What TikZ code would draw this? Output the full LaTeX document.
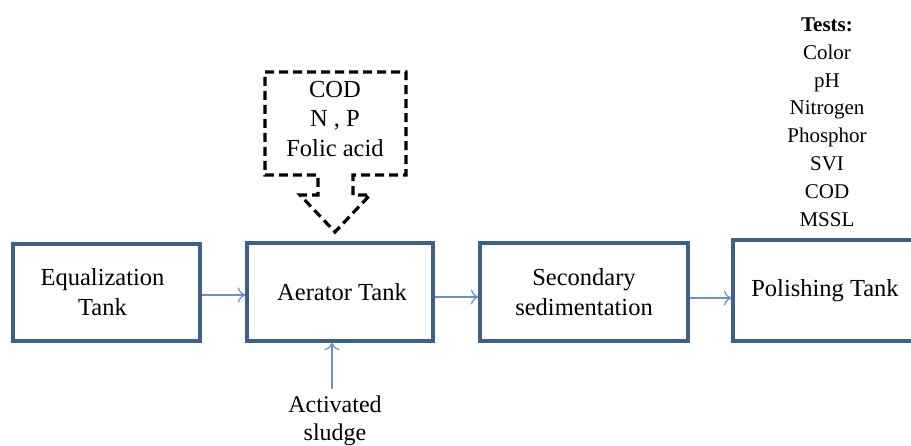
\documentclass[tikz,border=0pt]{standalone}
\usepackage{fontspec}
\setmainfont{Liberation Serif}
\usetikzlibrary{arrows.meta}
\definecolor{boxblue}{RGB}{62,96,140}
\definecolor{arrowblue}{RGB}{105,145,200}
\begin{document}
\begin{tikzpicture}[x=1pt,y=-1pt,
  box/.style={draw=boxblue, line width=3.2pt, align=center, inner sep=0pt,
    font=\fontsize{24.5}{30}\selectfont},
  flow/.style={draw=arrowblue, line width=1.2pt, -{To[length=7.5pt,width=15pt]}},
  txt/.style={align=center, inner sep=0pt, font=\fontsize{24}{28.5}\selectfont}]
\useasboundingbox (0,0) rectangle (911,445);
\clip (0,0) rectangle (911,445);
% process boxes
\node[box, minimum width=187pt, minimum height=97pt] (eq) at (106.5,292.5) {\hspace*{-8pt}Equalization\\\hspace*{-8pt}Tank};
\node[box, minimum width=186pt, minimum height=98pt] (aer) at (340,292) {\hspace*{4pt}Aerator Tank};
\node[box, minimum width=208pt, minimum height=98pt] (sec) at (584,292) {Secondary\\sedimentation};
\node[box, minimum width=190pt, minimum height=101pt] (pol) at (828,290.5) {\hspace*{-6pt}Polishing Tank};
% connectors
\draw[flow] ([yshift=-2.5pt]eq.east) -- ([yshift=-2.5pt]eq.east -| aer.west);
\draw[flow] ([yshift=-5pt]aer.east) -- ([yshift=-5pt]aer.east -| sec.west);
\draw[flow] ([yshift=-6pt]sec.east) -- ([yshift=-6pt]sec.east -| pol.west);
% activated sludge
\node[txt] (sludge) at (335,421) {Activated\\sludge};
\coordinate (slstart) at (332,389);
\draw[flow] (slstart) -- (slstart |- aer.south);
% dashed callout
\draw[black, line width=3.2pt, dash pattern=on 9pt off 5pt, line join=miter]
  (265,72) -- (406,72) -- (406,175) -- (353,175) -- (353,195) -- (370,195)
  -- (335,232) -- (300,195) -- (318,195) -- (318,175) -- (265,175) -- cycle;
\node[txt, font=\fontsize{24.5}{29.5}\selectfont] (inputs) at (335,119) {COD\\N , P\\Folic acid};
% tests
\node[txt, font=\fontsize{21}{27.8}\selectfont] (tests) at (827,122) {\textbf{Tests:}\\Color\\pH\\Nitrogen\\Phosphor\\SVI\\COD\\MSSL};
\end{tikzpicture}
\end{document}
